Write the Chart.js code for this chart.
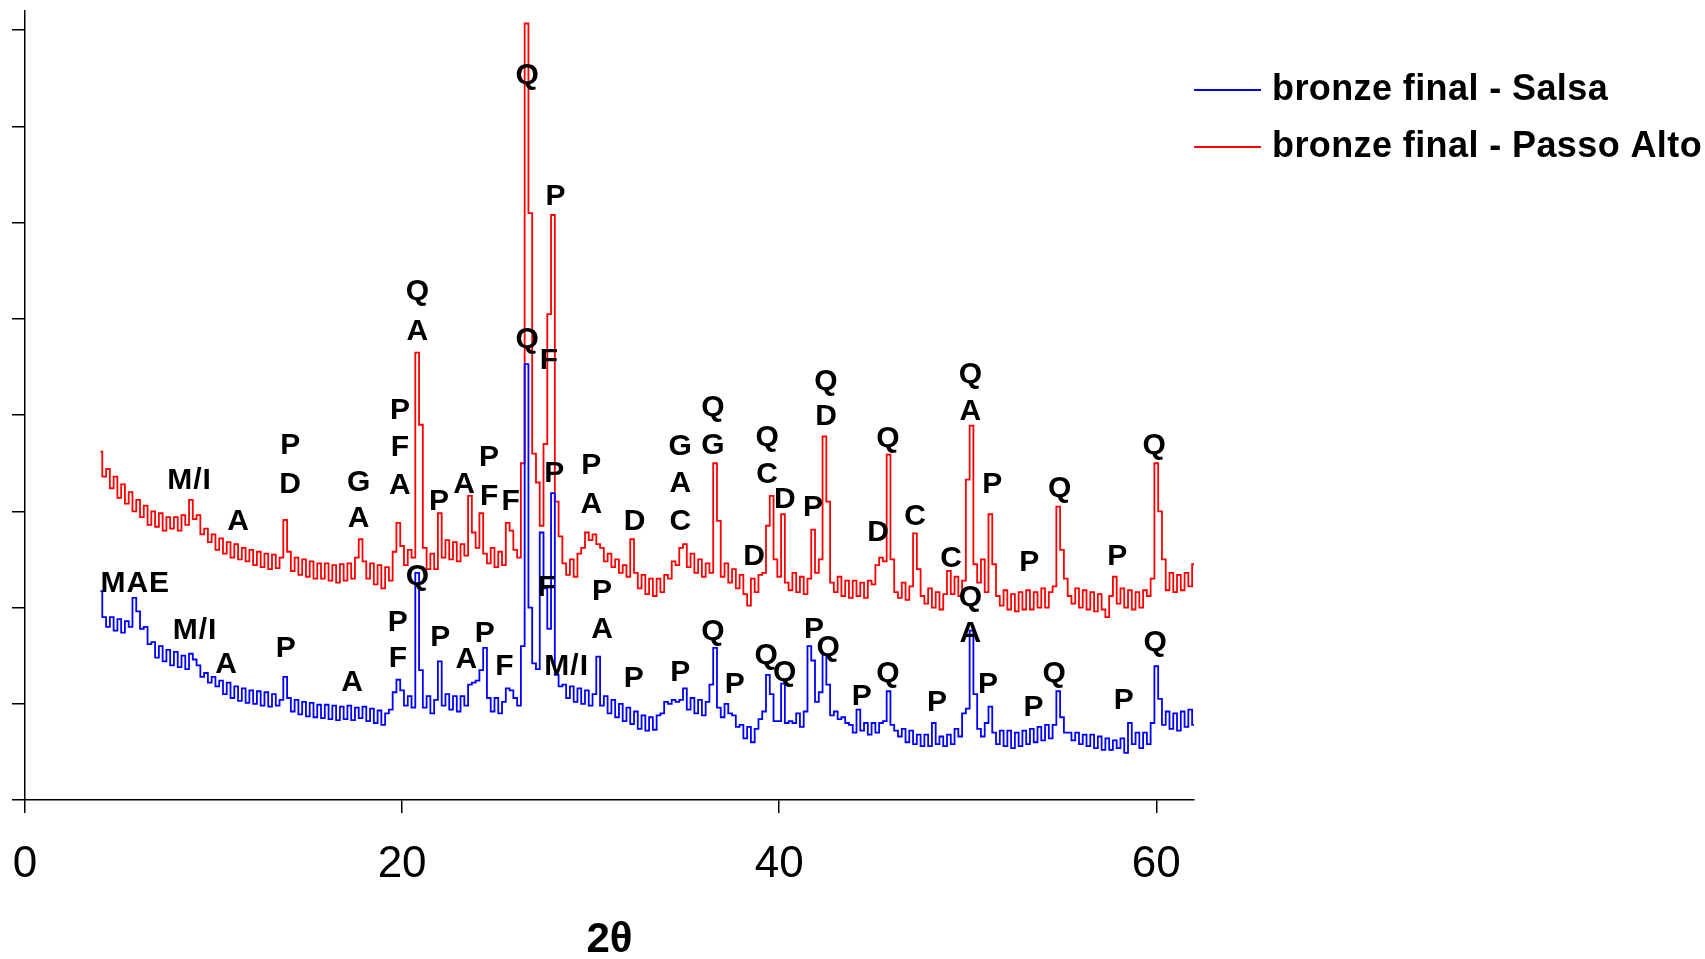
<!DOCTYPE html>
<html>
<head>
<meta charset="utf-8">
<title>bronze final - Salsa / Passo Alto</title>
<script src="https://cdn.jsdelivr.net/npm/chart.js@4.4.1/dist/chart.umd.min.js"></script>
<style>
  html, body { margin: 0; padding: 0; background: #fff; }
  #xrd { display: block; }
</style>
</head>
<body>
<canvas id="xrd" width="1705" height="959"></canvas>
<script>
// XRD patterns, bronze final - Salsa (blue) and Passo Alto (red)
// intensities on a 0.2 deg 2theta grid, 4 .. 62

const SERIES_NAMES = ['bronze final - Salsa', 'bronze final - Passo Alto'];
const START_2THETA = 4.0;
const STEP_2THETA  = 0.2;

const salsa = [
  2.17, 1.90, 1.80, 1.90, 1.76, 1.88, 1.74, 1.86, 1.80, 2.10, // 4
  1.96, 1.78, 1.80, 1.62, 1.64, 1.48, 1.60, 1.44, 1.56, 1.40, // 6
  1.54, 1.38, 1.50, 1.36, 1.52, 1.46, 1.40, 1.28, 1.32, 1.22, // 8
  1.28, 1.18, 1.24, 1.10, 1.22, 1.06, 1.18, 1.03, 1.16, 1.01, // 10
  1.14, 1.00, 1.13, 0.98, 1.12, 0.97, 1.10, 0.98, 1.04, 1.28, // 12
  1.06, 0.92, 1.04, 0.89, 1.02, 0.87, 1.01, 0.86, 0.99, 0.85, // 14
  0.99, 0.84, 0.98, 0.83, 0.97, 0.84, 0.98, 0.83, 0.96, 0.85, // 16
  0.97, 0.82, 0.95, 0.80, 0.93, 0.78, 0.90, 0.94, 1.12, 1.25, // 18
  1.14, 0.98, 1.08, 0.96, 2.36, 1.35, 0.96, 1.08, 0.90, 1.04, // 20
  1.44, 0.98, 1.10, 0.94, 1.08, 0.92, 1.08, 0.98, 1.20, 1.22, // 22
  1.24, 1.35, 1.58, 1.06, 0.92, 1.06, 0.90, 1.02, 1.16, 1.14, // 24
  1.06, 0.98, 1.60, 4.53, 2.00, 1.42, 1.36, 2.78, 2.20, 1.78, // 26
  3.19, 1.30, 1.18, 1.20, 1.06, 1.18, 1.02, 1.16, 1.00, 1.14, // 28
  0.98, 1.10, 1.49, 0.98, 1.08, 0.90, 1.04, 0.86, 1.00, 0.82, // 30
  0.96, 0.79, 0.92, 0.74, 0.88, 0.72, 0.86, 0.73, 0.88, 0.90, // 32
  1.02, 1.00, 1.04, 1.02, 1.04, 1.16, 0.94, 1.06, 0.90, 1.04, // 34
  0.88, 1.02, 1.20, 1.58, 0.96, 0.86, 1.00, 0.90, 0.88, 0.76, // 36
  0.78, 0.64, 0.76, 0.60, 0.74, 0.84, 0.92, 1.30, 1.10, 0.82, // 38
  0.82, 1.21, 0.80, 0.82, 0.80, 0.90, 0.76, 0.92, 1.60, 1.45, // 40
  1.02, 1.12, 1.51, 1.20, 0.88, 0.92, 0.84, 0.86, 0.80, 0.78, // 42
  0.70, 0.94, 0.72, 0.80, 0.68, 0.80, 0.70, 0.80, 0.82, 1.13, // 44
  0.78, 0.72, 0.66, 0.74, 0.60, 0.72, 0.58, 0.68, 0.56, 0.68, // 46
  0.56, 0.80, 0.58, 0.66, 0.56, 0.68, 0.58, 0.74, 0.66, 0.90, // 48
  0.95, 1.76, 1.10, 0.74, 0.66, 0.80, 0.97, 0.70, 0.58, 0.72, // 50
  0.56, 0.72, 0.54, 0.70, 0.56, 0.72, 0.58, 0.74, 0.60, 0.76, // 52
  0.62, 0.78, 0.64, 0.78, 1.13, 0.86, 0.70, 0.70, 0.62, 0.70, // 54
  0.58, 0.68, 0.56, 0.68, 0.54, 0.66, 0.52, 0.64, 0.52, 0.62, // 56
  0.54, 0.64, 0.49, 0.80, 0.58, 0.70, 0.54, 0.70, 0.58, 0.80, // 58
  1.39, 1.05, 0.78, 0.92, 0.74, 0.90, 0.72, 0.92, 0.76, 0.94, // 60
  0.78
];

const passoAlto = [
  3.62, 3.36, 3.44, 3.24, 3.36, 3.14, 3.28, 3.08, 3.20, 3.00, // 4
  3.12, 2.94, 3.06, 2.86, 3.00, 2.84, 2.98, 2.80, 2.94, 2.82, // 6
  2.94, 2.80, 2.96, 2.86, 3.12, 2.92, 2.96, 2.76, 2.82, 2.68, // 8
  2.76, 2.60, 2.72, 2.56, 2.68, 2.52, 2.66, 2.50, 2.62, 2.48, // 10
  2.60, 2.44, 2.58, 2.42, 2.56, 2.40, 2.55, 2.41, 2.52, 2.91, // 12
  2.58, 2.38, 2.52, 2.34, 2.50, 2.32, 2.48, 2.30, 2.46, 2.30, // 14
  2.46, 2.28, 2.44, 2.26, 2.45, 2.28, 2.46, 2.30, 2.52, 2.71, // 16
  2.48, 2.30, 2.46, 2.24, 2.44, 2.20, 2.42, 2.28, 2.58, 2.88, // 18
  2.64, 2.44, 2.60, 2.52, 4.65, 3.90, 2.62, 2.40, 2.56, 2.40, // 20
  2.98, 2.52, 2.70, 2.50, 2.68, 2.48, 2.66, 2.54, 3.16, 2.78, // 22
  2.62, 2.98, 2.56, 2.46, 2.62, 2.42, 2.58, 2.44, 2.88, 2.80, // 24
  2.60, 2.52, 3.50, 8.07, 6.10, 3.60, 3.30, 2.85, 3.70, 5.05, // 26
  6.08, 3.10, 2.74, 2.46, 2.34, 2.50, 2.32, 2.56, 2.62, 2.78, // 28
  2.70, 2.76, 2.66, 2.62, 2.48, 2.56, 2.42, 2.50, 2.36, 2.44, // 30
  2.32, 2.71, 2.36, 2.20, 2.34, 2.14, 2.30, 2.12, 2.30, 2.16, // 32
  2.34, 2.30, 2.48, 2.44, 2.62, 2.66, 2.42, 2.56, 2.36, 2.50, // 34
  2.32, 2.46, 2.36, 3.50, 2.90, 2.32, 2.46, 2.26, 2.40, 2.20, // 36
  2.34, 2.14, 2.02, 2.30, 2.16, 2.34, 2.36, 2.85, 3.16, 2.50, // 38
  2.32, 2.97, 2.26, 2.18, 2.36, 2.16, 2.32, 2.14, 2.30, 2.81, // 40
  2.36, 2.50, 3.78, 3.10, 2.26, 2.16, 2.32, 2.12, 2.28, 2.10, // 42
  2.28, 2.12, 2.26, 2.10, 2.28, 2.24, 2.44, 2.52, 2.48, 3.59, // 44
  2.50, 2.16, 2.10, 2.26, 2.08, 2.22, 2.77, 2.40, 2.12, 2.04, // 46
  2.20, 2.00, 2.16, 1.98, 2.14, 2.38, 2.14, 2.32, 2.12, 2.28, // 48
  3.33, 3.89, 2.45, 2.26, 2.50, 2.16, 2.97, 2.45, 2.12, 2.02, // 50
  2.18, 1.98, 2.14, 1.96, 2.16, 1.98, 2.18, 1.98, 2.16, 2.00, // 52
  2.20, 2.00, 2.16, 2.22, 3.05, 2.60, 2.30, 2.12, 2.04, 2.20, // 54
  2.00, 2.18, 1.98, 2.16, 1.96, 2.14, 1.98, 1.90, 2.12, 2.32, // 56
  2.04, 2.20, 2.00, 2.18, 1.98, 2.16, 2.00, 2.18, 2.12, 2.30, // 58
  3.50, 3.00, 2.50, 2.18, 2.36, 2.16, 2.34, 2.18, 2.36, 2.22, // 60
  2.45
];

// sampling grid of the diffractometer
const twoTheta = salsa.map((_, i) => +(START_2THETA + i * STEP_2THETA).toFixed(1));

const xTicks = [0, 20, 40, 60];
const yTicks = [0, 1, 2, 3, 4, 5, 6, 7, 8];

// phase letters: [text, 2theta, intensity]
const salsaMarks = [
  ['MAE', 5.85, 2.25], ['M/I', 9.02, 1.76], ['A', 10.69, 1.41], ['P', 13.86, 1.57],
  ['A', 17.38, 1.22], ['Q', 20.84, 2.32], ['P', 19.80, 1.84], ['F', 19.80, 1.47],
  ['P', 22.05, 1.69], ['A', 23.43, 1.46], ['P', 24.41, 1.73], ['F', 25.45, 1.39],
  ['Q', 26.66, 4.78], ['F', 27.81, 4.57], ['P', 28.10, 3.39],
  ['F', 27.69, 2.21], ['M/I', 28.73, 1.39], ['P', 30.63, 2.16], ['A', 30.63, 1.77],
  ['P', 32.31, 1.26], ['P', 34.78, 1.32], ['Q', 36.51, 1.75], ['P', 37.67, 1.20],
  ['Q', 39.34, 1.50], ['Q', 40.32, 1.32], ['P', 41.87, 1.77], ['Q', 42.62, 1.58],
  ['P', 44.41, 1.07], ['Q', 45.79, 1.31], ['P', 48.39, 1.01], ['Q', 50.17, 2.10],
  ['A', 50.17, 1.73], ['P', 51.10, 1.20], ['P', 53.52, 0.96], ['Q', 54.61, 1.31],
  ['P', 58.30, 1.03], ['Q', 59.97, 1.63]
];

const passoAltoMarks = [
  ['Q', 26.66, 7.53], ['P', 28.16, 6.27], ['Q', 20.84, 5.28], ['A', 20.84, 4.87],
  ['P', 19.91, 4.05], ['F', 19.91, 3.66], ['A', 19.91, 3.27],
  ['P', 14.09, 3.68], ['D', 14.09, 3.28], ['M/I', 8.73, 3.32], ['A', 11.33, 2.89],
  ['G', 17.72, 3.30], ['A', 17.72, 2.92], ['P', 21.99, 3.10], ['A', 23.31, 3.28],
  ['P', 24.64, 3.56], ['F', 24.64, 3.15], ['F', 25.79, 3.10],
  ['P', 30.06, 3.47], ['A', 30.06, 3.07], ['D', 32.36, 2.89],
  ['G', 34.78, 3.67], ['A', 34.78, 3.29], ['C', 34.78, 2.89],
  ['Q', 36.51, 4.08], ['G', 36.51, 3.68], ['Q', 39.39, 3.76], ['C', 39.39, 3.38],
  ['D', 40.32, 3.12], ['D', 38.70, 2.53], ['P', 41.82, 3.04],
  ['Q', 42.51, 4.35], ['D', 42.51, 3.98], ['Q', 45.79, 3.75], ['D', 45.27, 2.78],
  ['C', 47.23, 2.94], ['C', 49.14, 2.51], ['Q', 50.17, 4.42], ['A', 50.17, 4.04],
  ['P', 51.33, 3.28], ['Q', 54.90, 3.24], ['P', 53.29, 2.47], ['P', 57.95, 2.53],
  ['Q', 59.91, 3.68]
];

const FONT = '"Liberation Sans", Arial, Helvetica, sans-serif';
Chart.defaults.font.family = FONT;
Chart.defaults.color = '#000';

// letters next to the peaks
const peakLabels = {
  id: 'peakLabels',
  afterDatasetsDraw(chart) {
    const { ctx, scales: { x, y } } = chart;
    ctx.save();
    ctx.font = 'bold 30px ' + FONT;
    ctx.letterSpacing = '1px';
    ctx.fillStyle = '#000';
    ctx.textAlign = 'center';
    ctx.textBaseline = 'middle';
    passoAltoMarks.concat(salsaMarks).forEach(([t, tt, v]) => {
      ctx.fillText(t, x.getPixelForValue(tt), y.getPixelForValue(v));
    });
    ctx.restore();
  }
};

// legend sits to the right of the plot, top aligned
const sideLegend = {
  id: 'sideLegend',
  afterDraw(chart) {
    const { ctx, chartArea } = chart;
    ctx.save();
    ctx.font = 'bold 36px ' + FONT;
    ctx.letterSpacing = '0.4px';
    ctx.textBaseline = 'middle';
    ctx.textAlign = 'left';
    chart.data.datasets.forEach((ds, i) => {
      const yy = chartArea.top + 79 + i * 57;
      ctx.strokeStyle = ds.borderColor;
      ctx.lineWidth = 2;
      ctx.beginPath();
      ctx.moveTo(chartArea.right, yy);
      ctx.lineTo(chartArea.right + 67, yy);
      ctx.stroke();
      ctx.fillStyle = '#000';
      ctx.fillText(ds.label, chartArea.right + 78, yy);
    });
    ctx.restore();
  }
};

const axisLine = { display: true, color: '#000', width: 1.5 };
const tickMarks = { drawOnChartArea: false, drawTicks: true, tickLength: 13, color: '#000', lineWidth: 1.5 };

new Chart(document.getElementById('xrd'), {
  type: 'line',
  data: {
    datasets: [
      {
        label: SERIES_NAMES[0],
        data: twoTheta.map((t, i) => ({ x: t, y: salsa[i] })),
        borderColor: '#0000ff',
        borderWidth: 1.8,
        stepped: 'middle',
        pointRadius: 0,
        fill: false
      },
      {
        label: SERIES_NAMES[1],
        data: twoTheta.map((t, i) => ({ x: t, y: passoAlto[i] })),
        borderColor: '#ff0000',
        borderWidth: 1.8,
        stepped: 'middle',
        pointRadius: 0,
        fill: false
      }
    ]
  },
  options: {
    responsive: false,
    animation: false,
    devicePixelRatio: 1,
    layout: { padding: { left: 12, right: 511, top: 11, bottom: 0 } },
    plugins: { legend: { display: false }, tooltip: { enabled: false } },
    scales: {
      x: {
        type: 'linear',
        min: 0,
        max: 62,
        afterBuildTicks: s => { s.ticks = xTicks.map(v => ({ value: v })); },
        afterFit: s => { s.height = 159; s.paddingLeft = 0; s.paddingRight = 0; },
        grid: tickMarks,
        border: axisLine,
        ticks: { color: '#000', padding: 25, maxRotation: 0, autoSkip: false, font: { size: 44 } },
        title: {
          display: true,
          text: '2θ',
          color: '#000',
          font: { size: 42, weight: 'bold', lineHeight: 0.9 },
          padding: { top: 0, bottom: 0 }
        }
      },
      y: {
        type: 'linear',
        min: 0,
        max: 8.2,
        afterBuildTicks: s => { s.ticks = yTicks.map(v => ({ value: v })); },
        afterFit: s => { s.width = 13; },
        grid: tickMarks,
        border: axisLine,
        ticks: { display: false }
      }
    }
  },
  plugins: [peakLabels, sideLegend]
});
</script>
</body>
</html>
